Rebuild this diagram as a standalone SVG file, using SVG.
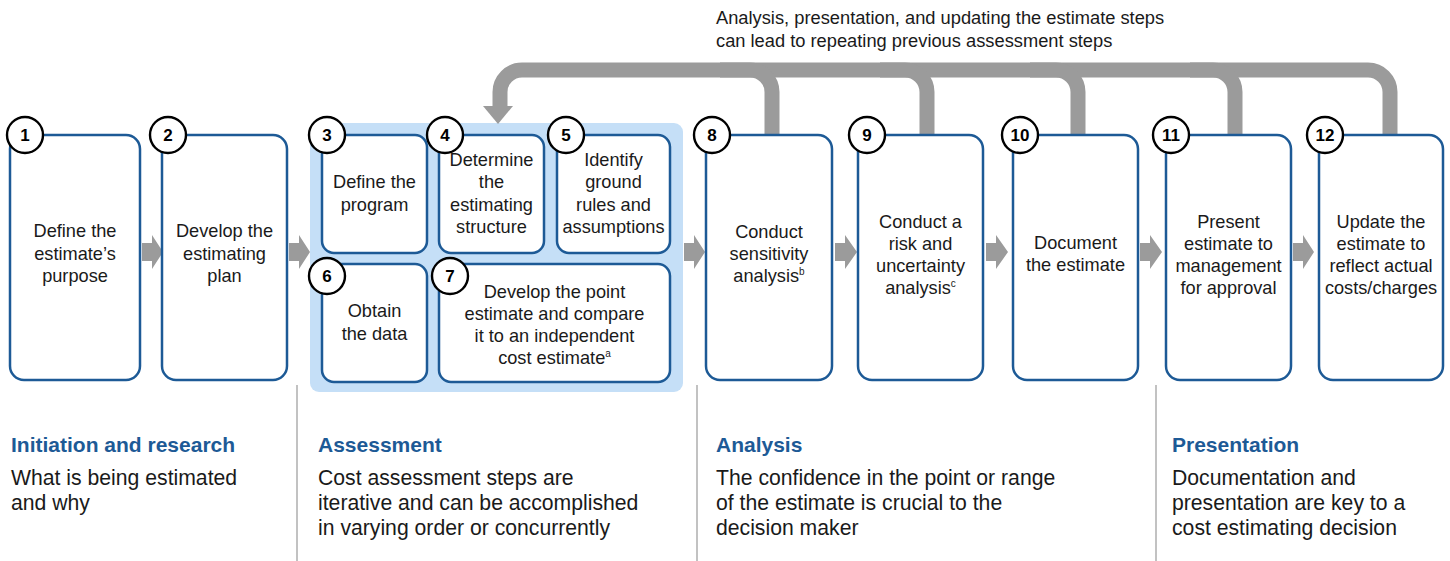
<svg xmlns="http://www.w3.org/2000/svg" width="1450" height="561" viewBox="0 0 1450 561">
<style>
.box{fill:#fff;stroke:#1d5a96;stroke-width:2.5}
.num{fill:#fff;stroke:#000;stroke-width:2.4}
.numt{font-family:"Liberation Sans",Arial,sans-serif;font-weight:bold;font-size:17px;fill:#000;text-anchor:middle}
.t{font-family:"Liberation Sans",Arial,sans-serif;font-size:18.2px;fill:#1a1a1a;text-anchor:middle}
.sup{font-size:10px}
.fb{fill:none;stroke:#9b9b9b;stroke-width:15}
.arr{fill:#9b9b9b}
.sep{stroke:#999;stroke-width:1.2}
.hd{font-family:"Liberation Sans",Arial,sans-serif;font-weight:bold;font-size:21px;fill:#1d5a96}
.bd{font-family:"Liberation Sans",Arial,sans-serif;font-size:21.2px;fill:#1a1a1a}
.top{font-family:"Liberation Sans",Arial,sans-serif;font-size:18.3px;fill:#1a1a1a}
</style>
<rect width="1450" height="561" fill="#fff"/>
<g id="top-label">
<text class="top" x="716" y="24">Analysis, presentation, and updating the estimate steps</text>
<text class="top" x="716" y="47">can lead to repeating previous assessment steps</text>
</g>
<rect id="assessment-bg" x="310" y="123" width="373" height="269" rx="9" fill="#c5dff7"/>
<g id="connectors">
<path class="fb" d="M1390,135 V92 A22,22 0 0 0 1368,70 H522 A22,22 0 0 0 500,92 V108"/>
<polygon class="arr" points="483,106 513,106 498,124"/>
<path class="fb" d="M772,135 V92 A22,22 0 0 0 750,70 H720"/>
<path class="fb" d="M927,135 V92 A22,22 0 0 0 905,70 H880"/>
<path class="fb" d="M1078,135 V92 A22,22 0 0 0 1056,70 H1030"/>
<path class="fb" d="M1235,135 V92 A22,22 0 0 0 1213,70 H1190"/>
<polygon class="arr" points="142,243 152,243 152,235 163,252 152,269 152,261 142,261"/>
<polygon class="arr" points="289,243 299,243 299,235 310,252 299,269 299,261 289,261"/>
<polygon class="arr" points="684,243 694,243 694,235 705,252 694,269 694,261 684,261"/>
<polygon class="arr" points="835,243 845,243 845,235 857,252 845,269 845,261 835,261"/>
<polygon class="arr" points="986,243 996,243 996,235 1008,252 996,269 996,261 986,261"/>
<polygon class="arr" points="1140,243 1150,243 1150,235 1162,252 1150,269 1150,261 1140,261"/>
<polygon class="arr" points="1293,243 1303,243 1303,235 1314,252 1303,269 1303,261 1293,261"/>
</g>
<g id="node1">
<rect class="box" x="10" y="135" width="130" height="245" rx="14"/>
<text class="t" x="75" y="237">Define the</text>
<text class="t" x="75" y="259.5">estimate’s</text>
<text class="t" x="75" y="282">purpose</text>
<circle class="num" cx="25" cy="135" r="18"/><text class="numt" x="25" y="141">1</text>
</g>
<g id="node2">
<rect class="box" x="162" y="135" width="125" height="245" rx="14"/>
<text class="t" x="224.5" y="237">Develop the</text>
<text class="t" x="224.5" y="259.5">estimating</text>
<text class="t" x="224.5" y="282">plan</text>
<circle class="num" cx="168" cy="135" r="18"/><text class="numt" x="168" y="141">2</text>
</g>
<g id="node3">
<rect class="box" x="322" y="135" width="105" height="118" rx="12"/>
<text class="t" x="374.5" y="188">Define the</text>
<text class="t" x="374.5" y="210.5">program</text>
<circle class="num" cx="327" cy="135" r="18"/><text class="numt" x="327" y="141">3</text>
</g>
<g id="node4">
<rect class="box" x="439" y="135" width="105" height="118" rx="12"/>
<text class="t" x="491.5" y="166">Determine</text>
<text class="t" x="491.5" y="188">the</text>
<text class="t" x="491.5" y="210.5">estimating</text>
<text class="t" x="491.5" y="233">structure</text>
<circle class="num" cx="445" cy="135" r="18"/><text class="numt" x="445" y="141">4</text>
</g>
<g id="node5">
<rect class="box" x="557" y="135" width="113" height="118" rx="12"/>
<text class="t" x="613.5" y="166">Identify</text>
<text class="t" x="613.5" y="188">ground</text>
<text class="t" x="613.5" y="210.5">rules and</text>
<text class="t" x="613.5" y="233">assumptions</text>
<circle class="num" cx="566" cy="135" r="18"/><text class="numt" x="566" y="141">5</text>
</g>
<g id="node6">
<rect class="box" x="322" y="264" width="105" height="118" rx="12"/>
<text class="t" x="374.5" y="317">Obtain</text>
<text class="t" x="374.5" y="339.5">the data</text>
<circle class="num" cx="327" cy="276" r="18"/><text class="numt" x="327" y="282">6</text>
</g>
<g id="node7">
<rect class="box" x="439" y="264" width="231" height="118" rx="12"/>
<text class="t" x="554.5" y="298">Develop the point</text>
<text class="t" x="554.5" y="320">estimate and compare</text>
<text class="t" x="554.5" y="342">it to an independent</text>
<text class="t" x="554.5" y="364">cost estimate<tspan class="sup" dy="-7">a</tspan></text>
<circle class="num" cx="450" cy="276" r="18"/><text class="numt" x="450" y="282">7</text>
</g>
<g id="node8">
<rect class="box" x="706" y="135" width="126" height="245" rx="14"/>
<text class="t" x="769" y="238">Conduct</text>
<text class="t" x="769" y="260">sensitivity</text>
<text class="t" x="769" y="282">analysis<tspan class="sup" dy="-7">b</tspan></text>
<circle class="num" cx="712" cy="135" r="18"/><text class="numt" x="712" y="141">8</text>
</g>
<g id="node9">
<rect class="box" x="858" y="135" width="125" height="245" rx="14"/>
<text class="t" x="920.5" y="228">Conduct a</text>
<text class="t" x="920.5" y="250">risk and</text>
<text class="t" x="920.5" y="272">uncertainty</text>
<text class="t" x="920.5" y="294">analysis<tspan class="sup" dy="-7">c</tspan></text>
<circle class="num" cx="867" cy="135" r="18"/><text class="numt" x="867" y="141">9</text>
</g>
<g id="node10">
<rect class="box" x="1013" y="135" width="125" height="245" rx="14"/>
<text class="t" x="1075.5" y="249">Document</text>
<text class="t" x="1075.5" y="271">the estimate</text>
<circle class="num" cx="1020" cy="135" r="18"/><text class="numt" x="1020" y="141">10</text>
</g>
<g id="node11">
<rect class="box" x="1166" y="135" width="125" height="245" rx="14"/>
<text class="t" x="1228.5" y="228">Present</text>
<text class="t" x="1228.5" y="250">estimate to</text>
<text class="t" x="1228.5" y="272">management</text>
<text class="t" x="1228.5" y="294">for approval</text>
<circle class="num" cx="1171" cy="135" r="18"/><text class="numt" x="1171" y="141">11</text>
</g>
<g id="node12">
<rect class="box" x="1319" y="135" width="124" height="245" rx="14"/>
<text class="t" x="1381" y="228">Update the</text>
<text class="t" x="1381" y="250">estimate to</text>
<text class="t" x="1381" y="272">reflect actual</text>
<text class="t" x="1381" y="294">costs/charges</text>
<circle class="num" cx="1325" cy="135" r="18"/><text class="numt" x="1325" y="141">12</text>
</g>
<g id="separators">
<line class="sep" x1="297" y1="385" x2="297" y2="561"/>
<line class="sep" x1="697" y1="385" x2="697" y2="561"/>
<line class="sep" x1="1156" y1="385" x2="1156" y2="561"/>
</g>
<g id="phase-initiation">
<text class="hd" x="11" y="452">Initiation and research</text>
<text class="bd" x="11" y="485">What is being estimated</text>
<text class="bd" x="11" y="510">and why</text>
</g>
<g id="phase-assessment">
<text class="hd" x="318" y="452">Assessment</text>
<text class="bd" x="318" y="485">Cost assessment steps are</text>
<text class="bd" x="318" y="510">iterative and can be accomplished</text>
<text class="bd" x="318" y="535">in varying order or concurrently</text>
</g>
<g id="phase-analysis">
<text class="hd" x="716" y="452">Analysis</text>
<text class="bd" x="716" y="485">The confidence in the point or range</text>
<text class="bd" x="716" y="510">of the estimate is crucial to the</text>
<text class="bd" x="716" y="535">decision maker</text>
</g>
<g id="phase-presentation">
<text class="hd" x="1172" y="452">Presentation</text>
<text class="bd" x="1172" y="485">Documentation and</text>
<text class="bd" x="1172" y="510">presentation are key to a</text>
<text class="bd" x="1172" y="535">cost estimating decision</text>
</g>
</svg>
